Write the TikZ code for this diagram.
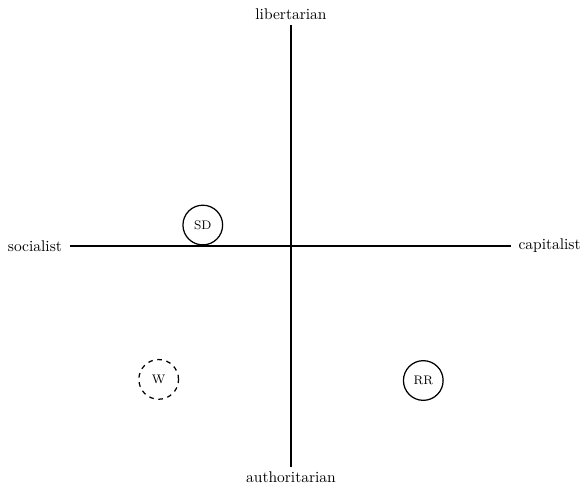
\documentclass[tikz,border=0pt]{standalone}
\usepackage{tikz}

\begin{document}
\begin{tikzpicture}[x=5cm,y=5cm]
  \tikzstyle{axis}=[thick, draw=black]
  \tikzstyle{party}=[circle, thick, draw=black, minimum size=0.9cm, inner sep=0pt, font=\footnotesize]
  \tikzstyle{label}=[font=\normalsize, align=center]

  \useasboundingbox (-1.3197,-1.0884) rectangle (1.3288,1.1156);

  % axis ends
  \coordinate (left)   at (-1,0);
  \coordinate (right)  at (1,0);
  \coordinate (top)    at (0,1);
  \coordinate (bottom) at (0,-1);

  \draw[axis] (left) -- (right);
  \draw[axis] (bottom) -- (top);

  \node[label, anchor=east, xshift=-2pt] (soc) at (left) {socialist};
  \node[label, anchor=west, xshift=1pt] (cap) at (right) {capitalist};
  \node[label, anchor=south] (lib) at (top) {libertarian};
  \node[label, anchor=north] (auth) at (bottom) {authoritarian};

  % parties
  \node[party] (SD) at (-0.4,0.095) {SD};
  \node[party, dashed] (W) at (-0.6,-0.605) {W};
  \node[party] (RR) at (0.6,-0.61) {RR};
\end{tikzpicture}
\end{document}
